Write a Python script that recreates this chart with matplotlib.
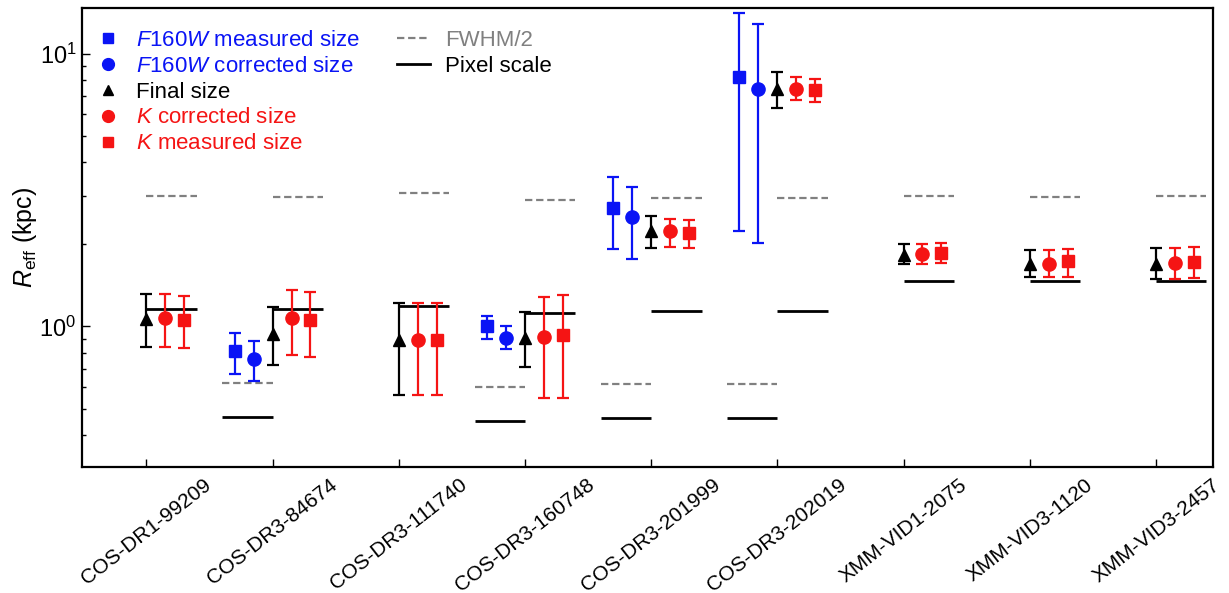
import numpy as np
import matplotlib
matplotlib.use('Agg')
import matplotlib.pyplot as plt
from matplotlib.lines import Line2D

plt.rcParams['font.family'] = ['Liberation Sans', 'DejaVu Sans']
plt.rcParams['mathtext.fontset'] = 'custom'
plt.rcParams['mathtext.rm'] = 'Liberation Sans'
plt.rcParams['mathtext.it'] = 'Liberation Sans:italic'

names = ['COS-DR1-99209', 'COS-DR3-84674', 'COS-DR3-111740', 'COS-DR3-160748',
         'COS-DR3-201999', 'COS-DR3-202019', 'XMM-VID1-2075', 'XMM-VID3-1120',
         'XMM-VID3-2457']
nan = np.nan

# F160W measured size (value, lower, upper)
f160_meas = [nan, 0.81, nan, 1.00, 2.72, 8.22, nan, nan, nan]
f160_meas_lo = [nan, 0.67, nan, 0.90, 1.92, 2.24, nan, nan, nan]
f160_meas_hi = [nan, 0.95, nan, 1.095, 3.52, 14.1, nan, nan, nan]
# F160W corrected size
f160_corr = [nan, 0.76, nan, 0.91, 2.51, 7.42, nan, nan, nan]
f160_corr_lo = [nan, 0.633, nan, 0.825, 1.77, 2.03, nan, nan, nan]
f160_corr_hi = [nan, 0.887, nan, 1.0, 3.25, 12.8, nan, nan, nan]
# final size
final = [1.063, 0.939, 0.892, 0.91, 2.244, 7.39, 1.827, 1.689, 1.689]
final_lo = [0.844, 0.725, 0.56, 0.712, 1.934, 6.34, 1.689, 1.514, 1.493]
final_hi = [1.315, 1.18, 1.222, 1.127, 2.547, 8.58, 2.01, 1.901, 1.934]
# K corrected size
k_corr = [1.077, 1.077, 0.892, 0.918, 2.237, 7.44, 1.843, 1.698, 1.704]
k_corr_lo = [0.844, 0.786, 0.56, 0.546, 1.95, 6.75, 1.689, 1.522, 1.493]
k_corr_hi = [1.315, 1.36, 1.222, 1.286, 2.482, 8.18, 2.01, 1.90, 1.934]
# K measured size
k_meas = [1.056, 1.056, 0.892, 0.928, 2.194, 7.35, 1.853, 1.742, 1.727]
k_meas_lo = [0.832, 0.771, 0.56, 0.546, 1.934, 6.63, 1.704, 1.514, 1.501]
k_meas_hi = [1.29, 1.34, 1.222, 1.307, 2.45, 8.04, 2.026, 1.917, 1.95]

# FWHM/2 and pixel scale (kpc)
fwhm_f160 = [nan, 0.621, nan, 0.599, 0.616, 0.616, nan, nan, nan]
fwhm_k = [3.0, 2.98, 3.08, 2.9, 2.96, 2.96, 3.01, 2.99, 3.01]
pix_f160 = [nan, 0.466, nan, 0.449, 0.462, 0.462, nan, nan, nan]
pix_k = [1.162, 1.162, 1.189, 1.124, 1.142, 1.142, 1.472, 1.472, 1.472]

blue = '#0a14f5'
red = '#f51414'
gray = '#808080'

fig = plt.figure(figsize=(12.29, 5.93), dpi=100)
ax = fig.add_axes([0.0667, 0.2125, 0.92, 0.774])
x = np.arange(len(names))


def draw(vals, lo, hi, off, color, marker, ms):
    v = np.array(vals)
    m = ~np.isnan(v)
    yerr = [v[m] - np.array(lo)[m], np.array(hi)[m] - v[m]]
    ax.errorbar(x[m] + off, v[m], yerr=yerr, fmt=marker, color=color, ms=ms,
                elinewidth=1.6, capsize=4.3, capthick=1.6, zorder=3)


# reference lines
for vals, x0, x1 in [(fwhm_f160, -0.4, 0.0), (fwhm_k, 0.0, 0.4)]:
    v = np.array(vals)
    m = ~np.isnan(v)
    ax.hlines(v[m], x[m] + x0, x[m] + x1, colors=gray, lw=1.6,
              linestyles=(0, (3.3, 1.7)), zorder=2)
for vals, x0, x1 in [(pix_f160, -0.4, 0.0), (pix_k, 0.0, 0.4)]:
    v = np.array(vals)
    m = ~np.isnan(v)
    ax.hlines(v[m], x[m] + x0, x[m] + x1, colors='black', lw=2.0, zorder=2)

draw(f160_meas, f160_meas_lo, f160_meas_hi, -0.3, blue, 's', 8.5)
draw(f160_corr, f160_corr_lo, f160_corr_hi, -0.15, blue, 'o', 9.5)
draw(final, final_lo, final_hi, 0.0, 'black', '^', 8)
draw(k_corr, k_corr_lo, k_corr_hi, 0.15, red, 'o', 9.5)
draw(k_meas, k_meas_lo, k_meas_hi, 0.3, red, 's', 8.5)

ax.set_yscale('log')
ax.set_ylim(0.3056, 14.68)
ax.set_xlim(-0.511, 8.45)
ax.set_xticks(x)
ax.set_xticklabels(names, rotation=38, ha='center', fontsize=15)
ax.set_ylabel(r'$R_{\rm eff}$ (kpc)', fontsize=18, labelpad=0)
ax.tick_params(which='both', direction='in', top=False, right=False,
               labelsize=17, width=1.0)
ax.tick_params(axis='x', length=6, pad=6, labelsize=15)
ax.tick_params(axis='y', which='major', length=6, pad=4)
ax.tick_params(axis='y', which='minor', length=3)
for s in ax.spines.values():
    s.set_linewidth(1.6)

# legends
h1 = [Line2D([], [], ls='none', marker='s', color=blue, ms=7.5),
      Line2D([], [], ls='none', marker='o', color=blue, ms=8.5),
      Line2D([], [], ls='none', marker='^', color='black', ms=7),
      Line2D([], [], ls='none', marker='o', color=red, ms=8.5),
      Line2D([], [], ls='none', marker='s', color=red, ms=7.5)]
l1 = [r'$\mathit{F160W}$ measured size', r'$\mathit{F160W}$ corrected size',
      'Final size', r'$K$ corrected size', r'$K$ measured size']
leg1 = ax.legend(h1, l1, loc='upper left', bbox_to_anchor=(0.005, 0.972),
                 frameon=False, fontsize=16, handlelength=1.0,
                 handletextpad=0.77, labelspacing=0.22, borderaxespad=0)
for t, c in zip(leg1.get_texts(), [blue, blue, 'black', red, red]):
    t.set_color(c)
ax.add_artist(leg1)

h2 = [Line2D([], [], color=gray, lw=1.6, ls=(0, (3.3, 1.7))),
      Line2D([], [], color='black', lw=2.0)]
leg2 = ax.legend(h2, ['FWHM/2', 'Pixel scale'], loc='upper left',
                 bbox_to_anchor=(0.2706, 0.972), frameon=False, fontsize=16,
                 handlelength=1.5, handletextpad=0.68, labelspacing=0.22,
                 borderaxespad=0)
for t, c in zip(leg2.get_texts(), [gray, 'black']):
    t.set_color(c)

fig.savefig('out.png', dpi=100)
